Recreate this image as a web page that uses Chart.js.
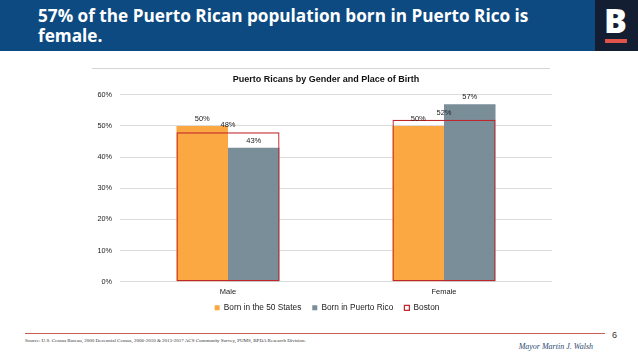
<!DOCTYPE html>
<html><head><meta charset="utf-8">
<script src="https://cdn.jsdelivr.net/npm/chart.js@4.4.0/dist/chart.umd.min.js"></script>
<style>
html,body{margin:0;padding:0;width:638px;height:359px;overflow:hidden;background:#fff;}
#header{position:absolute;left:0;top:0;width:595px;height:51px;background:#0d4a82;}
#title{position:absolute;left:38px;top:6px;color:#fff;font-family:"Open Sans";font-weight:700;font-size:17.2px;line-height:20px;white-space:nowrap;}
#logo{position:absolute;left:595px;top:0;width:43px;height:51px;background:#141e33;}
#logoB{position:absolute;left:9px;top:1px;color:#fff;font-family:"Open Sans";font-weight:800;font-size:34px;line-height:38px;}
#logoBar{position:absolute;left:10px;top:39px;width:22px;height:4px;background:#e0534a;}
#topline{position:absolute;left:92px;top:68px;width:458px;height:1px;background:#d4d4d4;}
#footline{position:absolute;left:25px;top:333px;width:580px;height:1px;background:#c8605a;}
#source{position:absolute;left:25px;top:338px;font-family:"Liberation Serif";font-size:5px;color:#333;white-space:nowrap;}
#page{position:absolute;left:612px;top:330px;font-family:"Liberation Sans";font-size:9px;color:#333;}
#mayor{position:absolute;right:45px;top:342px;font-family:"Liberation Serif";font-style:italic;font-size:8px;color:#2c4a6e;white-space:nowrap;}
canvas{position:absolute;left:0;top:0;}
</style></head>
<body>
<div id="header"><div id="title">57% of the Puerto Rican population born in Puerto Rico is<br>female.</div></div>
<div id="logo"><div id="logoB">B</div><div id="logoBar"></div></div>
<div id="topline"></div>
<div id="footline"></div>
<div id="source">Source: U.S. Census Bureau, 2000 Decennial Census, 2006-2010 &amp; 2013-2017 ACS Community Survey, PUMS, BPDA Research Division.</div>
<div id="page">6</div>
<div id="mayor">Mayor Martin J. Walsh</div>
<canvas id="c" width="638" height="359"></canvas>
<script>
const categories = ["Male", "Female"];
const born50States = [50, 50];
const bornPuertoRico = [43, 57];
const boston = [48, 52];
const yTicks = [0, 10, 20, 30, 40, 50, 60];

const labelPlugin = {
  id: 'valueLabels',
  afterDatasetsDraw(chart) {
    const ctx = chart.ctx;
    ctx.save();
    ctx.font = '7.5px "Liberation Sans"';
    ctx.fillStyle = '#222';
    ctx.textAlign = 'center';
    ctx.textBaseline = 'middle';
    chart.data.datasets.forEach((ds, di) => {
      const meta = chart.getDatasetMeta(di);
      meta.data.forEach((el, i) => {
        ctx.fillText(ds.data[i] + '%', el.x, el.y - 7);
      });
    });
    ctx.restore();
  }
};

const boxShift = {
  id: 'boxShift',
  beforeDraw(chart) {
    if (chart._boxesShifted) return;
    const lg = chart.legend;
    if (lg) { lg.top -= 7; lg.bottom -= 7; lg.left += 6; lg.right += 6; }
    const tb = chart.titleBlock;
    if (tb) { tb.left += 5; tb.right += 5; }
    chart._boxesShifted = true;
  },
  afterLayout(chart) { chart._boxesShifted = false; }
};

new Chart(document.getElementById('c'), {
  type: 'bar',
  data: {
    labels: categories,
    datasets: [
      {label: 'Born in the 50 States', data: born50States, backgroundColor: '#fba842', borderWidth: 0, categoryPercentage: 0.477, barPercentage: 1, order: 1},
      {label: 'Born in Puerto Rico', data: bornPuertoRico, backgroundColor: '#7a8e99', borderWidth: 0, categoryPercentage: 0.477, barPercentage: 1, order: 1},
      {label: 'Boston', data: boston, backgroundColor: 'rgba(255,255,255,0)', borderColor: '#c0272d', borderWidth: 1.2, borderSkipped: false, grouped: false, categoryPercentage: 0.477, barPercentage: 1, order: 0}
    ]
  },
  options: {
    responsive: false,
    animation: false,
    layout: {padding: {left: 90, right: 86, top: 74, bottom: 30}},
    plugins: {
      title: {display: true, text: 'Puerto Ricans by Gender and Place of Birth', color: '#111', font: {family: '"Liberation Sans"', size: 9, weight: 'bold'}, padding: {top: 0, bottom: 10}},
      legend: {position: 'bottom', labels: {boxWidth: 5, boxHeight: 5, padding: 11, color: '#222', font: {family: '"Liberation Sans"', size: 8.3}, sort: (a, b) => a.datasetIndex - b.datasetIndex}},
      tooltip: {enabled: false}
    },
    scales: {
      x: {
        grid: {display: false, drawTicks: false},
        border: {display: false},
        ticks: {color: '#222', padding: 6, font: {family: '"Liberation Sans"', size: 7.5}},
        afterFit(s) { s.height = 18; }
      },
      y: {
        min: 0, max: 60,
        afterBuildTicks(s) { s.ticks = yTicks.map(v => ({value: v})); },
        grid: {color: '#dcdcdc', drawTicks: false},
        border: {display: false},
        ticks: {color: '#222', padding: 8, font: {family: '"Liberation Sans"', size: 7.3}, callback: v => v + '%'},
        afterFit(s) { s.width = 30; }
      }
    }
  },
  plugins: [labelPlugin, boxShift]
});
</script>
</body></html>
